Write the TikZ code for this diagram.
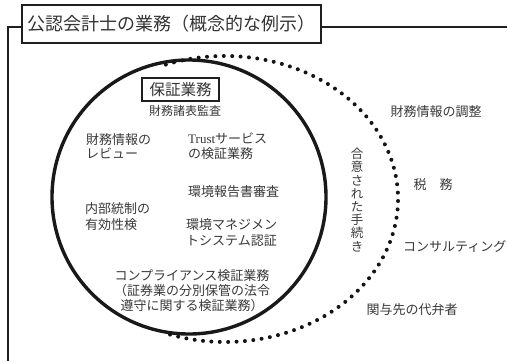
\documentclass[tikz,border=0pt]{standalone}
\usepackage{fontspec}
\setmainfont{Liberation Serif}
\newfontfamily\jp{Noto Sans CJK JP}
\begin{document}
\begin{tikzpicture}[x=1pt,y=-1pt,
  txt/.style={text=black!78, font=\jp\fontsize{13}{15}\selectfont, inner sep=0pt},
  frameline/.style={line width=2pt, draw=black!88},
  titlebox/.style={draw=black!88, line width=2.6pt, fill=white, minimum width=299pt, minimum height=38pt, inner sep=0pt, font=\jp\fontsize{18}{20}\selectfont, text=black!80},
  subbox/.style={draw=black!88, line width=1.5pt, minimum width=77pt, minimum height=23pt, inner sep=0pt, font=\jp\fontsize{15.5}{17}\selectfont, text=black!80},
  bigcircle/.style={draw=black!90, line width=3.4pt},
  dotline/.style={draw=black!92, line width=4pt, line cap=round, dash pattern=on 0pt off 8.4pt}]
\useasboundingbox (0,0) rectangle (508,361);
% frame
\node[titlebox] (title) at (171.5,24) {公認会計士の業務（概念的な例示）};
\coordinate (tl) at (8,27);
\coordinate (bl) at (8,361);
\coordinate (tr) at (507,27);
\draw[frameline] ([yshift=-3pt]title.west) -- (tl) -- (bl);
\draw[frameline] ([yshift=-3pt]title.east) -- (tr);
% circles
\coordinate (cc) at (189,197);
\draw[bigcircle] (cc) circle[radius=137];
\coordinate (ec) at (225,199);
\draw[dotline] ([shift={(-110:173 and 143)}]ec) arc[start angle=-110, end angle=110, x radius=173, y radius=143];
% inside texts
\node[subbox] (hosho) at (180.5,89.5) {保証業務};
\node[txt, font=\jp\fontsize{12}{14}\selectfont] (kansa) at (185,111) {財務諸表監査};
\node[txt, anchor=west, align=left, font=\jp\fontsize{13}{14.5}\selectfont] (review) at (86,146) {財務情報の\\レビュー};
\node[txt, anchor=west, align=left, font=\jp\fontsize{13}{14.5}\selectfont] (trust) at (188,146) {{\rmfamily Trust}サービス\\の検証業務};
\node[txt, anchor=west] (kankyo) at (188,192) {環境報告書審査};
\node[txt, anchor=west, align=left, font=\jp\fontsize{13}{16}\selectfont] (naibu) at (85,217) {内部統制の\\有効性検};
\node[txt, anchor=west, align=left, font=\jp\fontsize{13}{16}\selectfont] (ems) at (186,233) {環境マネジメン\\トシステム認証};
\node[txt, align=center, font=\jp\fontsize{13}{15}\selectfont] (comp) at (192,291) {コンプライアンス検証業務\\（証券業の分別保管の法令\\遵守に関する検証業務）};
% vertical text
\node[txt, align=center, font=\jp\fontsize{12.5}{13.2}\selectfont] (aup) at (357,200) {合\\意\\さ\\れ\\た\\手\\続\\き};
% outside texts
\node[txt] (chosei) at (436,112) {財務情報の調整};
\node[txt] (zeimu) at (433,185) {税\hspace{1em}務};
\node[txt, anchor=west] (consul) at (403,247) {コンサルティング};
\node[txt] (daiben) at (412,310) {関与先の代弁者};
\end{tikzpicture}
\end{document}
